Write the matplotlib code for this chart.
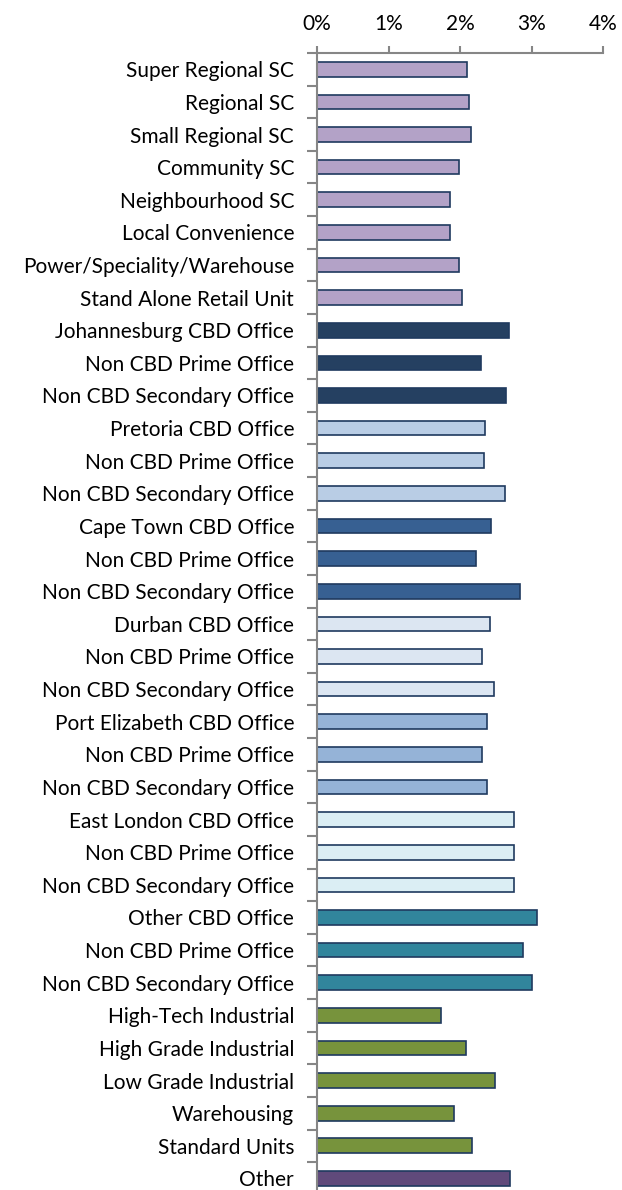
import numpy as np
import matplotlib
matplotlib.use('Agg')
import matplotlib.pyplot as plt
from matplotlib.ticker import FuncFormatter

labels = ['Super Regional SC', 'Regional SC', 'Small Regional SC', 'Community SC',
          'Neighbourhood SC', 'Local Convenience', 'Power/Speciality/Warehouse',
          'Stand Alone Retail Unit',
          'Johannesburg CBD Office', 'Non CBD Prime Office', 'Non CBD Secondary Office',
          'Pretoria CBD Office', 'Non CBD Prime Office', 'Non CBD Secondary Office',
          'Cape Town CBD Office', 'Non CBD Prime Office', 'Non CBD Secondary Office',
          'Durban CBD Office', 'Non CBD Prime Office', 'Non CBD Secondary Office',
          'Port Elizabeth CBD Office', 'Non CBD Prime Office', 'Non CBD Secondary Office',
          'East London CBD Office', 'Non CBD Prime Office', 'Non CBD Secondary Office',
          'Other CBD Office', 'Non CBD Prime Office', 'Non CBD Secondary Office',
          'High-Tech Industrial', 'High Grade Industrial', 'Low Grade Industrial',
          'Warehousing', 'Standard Units', 'Other']

values = [2.09, 2.12, 2.15, 1.99, 1.86, 1.86, 1.99, 2.03,
          2.68, 2.285, 2.64,
          2.35, 2.34, 2.63,
          2.43, 2.225, 2.84,
          2.42, 2.31, 2.47,
          2.38, 2.30, 2.38,
          2.75, 2.75, 2.75,
          3.07, 2.88, 3.01,
          1.73, 2.08, 2.48, 1.91, 2.17,
          2.69]

# colour per group
group_sizes = [8, 3, 3, 3, 3, 3, 3, 3, 5, 1]
group_colors = ['#B3A2C7', '#254061', '#B9CDE5', '#376092', '#DCE6F2',
                '#95B3D7', '#DBEEF4', '#31859C', '#77933C', '#604A7B']
colors = []
for n, c in zip(group_sizes, group_colors):
    colors += [c] * n

plt.rcParams['font.family'] = ['Lato', 'DejaVu Sans']

fig = plt.figure(figsize=(6.22, 11.9), dpi=100)
ax = fig.add_axes([0.5096, -0.004, 0.4604, 0.9595])

y = np.arange(len(labels))
ax.barh(y, values, height=0.45, color=colors, edgecolor='#1F3A5F', linewidth=1.2)

ax.set_xlim(0, 4)
ax.set_ylim(len(labels) - 0.5, -0.5)
ax.xaxis.tick_top()
ax.set_xticks([0, 1, 2, 3, 4])
ax.xaxis.set_major_formatter(FuncFormatter(lambda v, p: '%d%%' % v))
ax.tick_params(axis='x', length=5, width=1.5, color='#868686', labelsize=15,
               pad=9, labelcolor='#000000')

ax.set_yticks(y)
ax.set_yticklabels(labels)
ax.tick_params(axis='y', which='major', length=0, labelsize=15, pad=16.5)
ax.set_yticks(np.arange(len(labels) + 1) - 0.5, minor=True)
ax.tick_params(axis='y', which='minor', length=7, width=1.5, color='#868686')

for s in ['right', 'bottom']:
    ax.spines[s].set_visible(False)
for s in ['left', 'top']:
    ax.spines[s].set_color('#868686')
    ax.spines[s].set_linewidth(1.5)

plt.savefig('out.png', dpi=100)
